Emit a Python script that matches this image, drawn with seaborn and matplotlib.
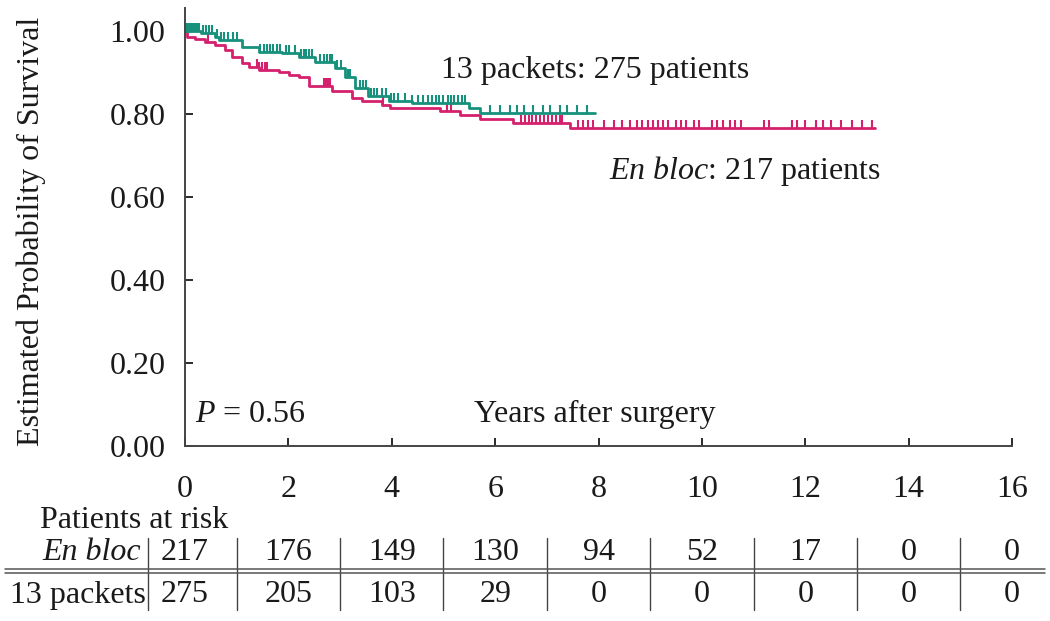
import numpy as np
import pandas as pd
import matplotlib
matplotlib.use("Agg")
import matplotlib.pyplot as plt
from matplotlib.path import Path
import seaborn as sns

# Kaplan-Meier step curves (times where the curve drops, and survival after the drop)
eb_times = [0, 0.03, 0.20, 0.39, 0.59, 0.78, 0.91, 1.10, 1.23, 1.43, 1.81, 2.01, 2.20,
            2.39, 2.84, 3.23, 3.42, 3.81, 3.97, 4.93, 5.32, 5.70, 6.35, 7.45]
eb_surv = [1.0, 0.986, 0.98, 0.972, 0.966, 0.954, 0.938, 0.923, 0.914, 0.906, 0.902,
           0.894, 0.89, 0.866, 0.854, 0.838, 0.83, 0.822, 0.814, 0.806, 0.798, 0.788,
           0.779, 0.766]
eb_end = 13.35

pk_times = [0, 0.3, 0.59, 0.65, 1.10, 1.43, 1.88, 2.2, 2.52, 2.9, 3.1, 3.29, 3.55,
            3.94, 4.4, 5.5, 5.7]
pk_surv = [1.0, 0.995, 0.986, 0.978, 0.962, 0.95, 0.946, 0.938, 0.926, 0.91, 0.89,
           0.862, 0.842, 0.83, 0.826, 0.814, 0.802]
pk_end = 7.93

# censored observations
eb_cens = [0.45, 1.39, 1.44, 1.49, 1.54, 1.59, 2.68, 2.72, 2.76, 2.81, 3.83, 5.06,
           5.15, 6.51, 6.58, 6.65, 6.72, 6.8, 6.87, 6.95, 7.02, 7.1, 7.18, 7.26, 7.3,
           7.6, 7.7, 7.8, 7.9, 8.1, 8.3, 8.45, 8.6, 8.75, 8.85, 8.95, 9.05, 9.15, 9.25,
           9.35, 9.5, 9.6, 9.7, 9.85, 9.95, 10.2, 10.3, 10.4, 10.55, 10.65, 10.75,
           11.2, 11.3, 11.75, 11.85, 12.0, 12.2, 12.35, 12.5, 12.7, 12.9, 13.1, 13.3]
pk_cens = [0.04, 0.08, 0.12, 0.16, 0.2, 0.24, 0.28, 0.34, 0.4, 0.46, 0.52, 0.62,
           0.7, 0.76, 0.84, 0.92, 1.0, 1.45, 1.52, 1.58, 1.64, 1.7, 1.78, 1.84, 1.95,
           2.02, 2.12, 2.25, 2.3, 2.35, 2.4, 2.45, 2.62, 2.68, 2.74, 2.8, 2.85, 2.95,
           3.02, 3.15, 3.2, 3.38, 3.45, 3.5, 3.6, 3.65, 3.72, 3.82, 3.88, 3.98, 4.05,
           4.12, 4.25, 4.4, 4.5, 4.6, 4.7, 4.78, 4.85, 4.92, 5.0, 5.08, 5.15, 5.2,
           5.28, 5.35, 5.42, 5.9, 6.09, 6.29, 6.42, 6.55, 6.74, 6.93, 7.07, 7.26,
           7.39, 7.58, 7.77]

# patients at risk table
risk_years = [0, 2, 4, 6, 8, 10, 12, 14, 16]
risk_eb = [217, 176, 149, 130, 94, 52, 17, 0, 0]
risk_pk = [275, 205, 103, 29, 0, 0, 0, 0, 0]

EB_COLOR = "#d4206d"
PK_COLOR = "#17917c"
INK = "#1a1a1a"
FS = 23

sns.set_theme(style="ticks")
plt.rcParams["font.family"] = ["Liberation Serif", "DejaVu Serif"]
plt.rcParams["mathtext.fontset"] = "custom"
plt.rcParams["mathtext.rm"] = "Liberation Serif"
plt.rcParams["mathtext.it"] = "Liberation Serif:italic"

fig = plt.figure(figsize=(10.5, 6.21), dpi=100)
W, H = 1050, 621
ax = fig.add_axes([185 / W, 1 - 446 / H, (1012 - 185) / W, (446 - 8) / H])


def step_frame(times, surv, end):
    return pd.DataFrame({"t": times + [end], "s": surv + [surv[-1]]})


def surv_at(times, surv, t):
    idx = np.searchsorted(times, t, side="right") - 1
    return np.asarray(surv)[idx]


tick_up = Path([(0, 0), (0, 1)], [Path.MOVETO, Path.LINETO])

for times, surv, end, cens, color in [
    (eb_times, eb_surv, eb_end, eb_cens, EB_COLOR),
    (pk_times, pk_surv, pk_end, pk_cens, PK_COLOR),
]:
    df = step_frame(times, surv, end)
    sns.lineplot(data=df, x="t", y="s", ax=ax, color=color, lw=2.0,
                 drawstyle="steps-post", estimator=None, sort=False)
    ax.plot(cens, surv_at(times, surv, cens), linestyle="none", marker=tick_up,
            ms=12, mew=1.5, color=color)

ax.set_xlim(0, 16)
ax.set_ylim(0, 1.055)
ax.set_xticks(risk_years)
ax.set_yticks([0, 0.2, 0.4, 0.6, 0.8, 1.0])
ax.set_yticklabels([f"{v:.2f}" for v in [0, 0.2, 0.4, 0.6, 0.8, 1.0]])
ax.tick_params(axis="both", direction="in", length=6, width=1.3, colors=INK, labelsize=FS)
ax.tick_params(axis="x", pad=21)
ax.tick_params(axis="y", pad=14)
ax.set_xlabel("")
ax.set_ylabel("Estimated Probability of Survival", fontsize=FS, color=INK)
ax.yaxis.set_label_coords(-0.168, 0.49)
for side in ["top", "right"]:
    ax.spines[side].set_visible(False)
for side in ["left", "bottom"]:
    ax.spines[side].set_color("#444444")
    ax.spines[side].set_linewidth(1.4)

ax.text(4.95, 0.905, "13 packets: 275 patients", fontsize=FS, color=INK, va="center")
ax.text(8.2, 0.663, r"$\mathit{En\ bloc}$: 217 patients", fontsize=FS, color=INK, va="center")
ax.text(0.19, 0.075, r"$\mathit{P}$ = 0.56", fontsize=FS, color=INK, va="center")
ax.text(7.93, 0.075, "Years after surgery", fontsize=FS, color=INK, va="center", ha="center")

# patients at risk table, y in pixel rows
tab = fig.add_axes([185 / W, 0, (1012 - 185) / W, 116 / H])
tab.set_xlim(0, 16)
tab.set_ylim(621, 505)
tab.axis("off")
tab.text(-2.8, 520, "Patients at risk", fontsize=FS, color=INK, va="center")
tab.text(-0.85, 552, "En bloc", fontsize=FS, color=INK, va="center", ha="right", style="italic")
tab.text(-0.75, 595, "13 packets", fontsize=FS, color=INK, va="center", ha="right")
for x, a, b in zip(risk_years, risk_eb, risk_pk):
    tab.text(x, 552, str(a), fontsize=FS, color=INK, va="center", ha="center")
    tab.text(x, 595, str(b), fontsize=FS, color=INK, va="center", ha="center")
for x in [-0.72, 1, 3, 5, 7, 9, 11, 13, 15]:
    tab.plot([x, x], [538, 610], color="#444444", lw=1.0, clip_on=False)
for y in [569, 573]:
    tab.plot([-3.48, 16.64], [y, y], color="#555555", lw=1.1, clip_on=False)

fig.savefig("out.png", dpi=100)
